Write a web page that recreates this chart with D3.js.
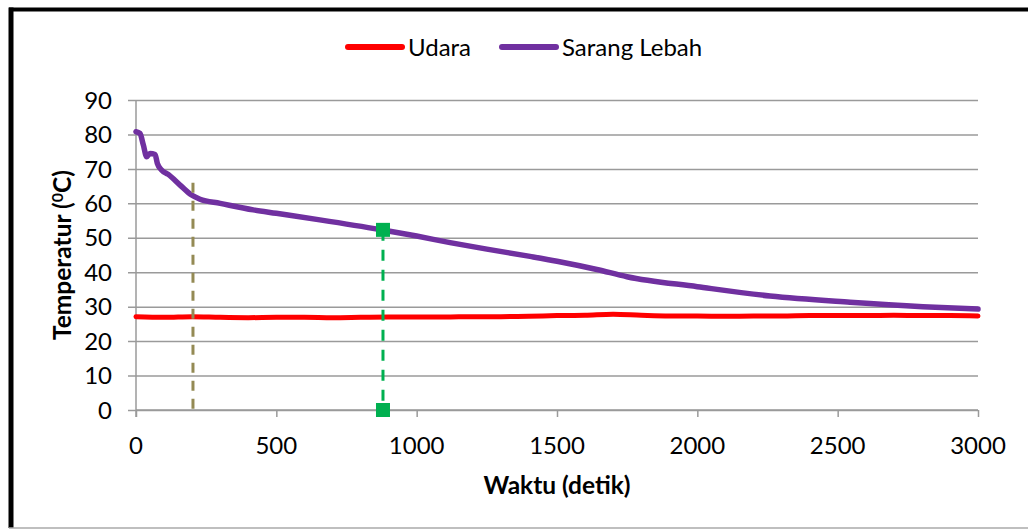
<!DOCTYPE html>
<html>
<head>
<meta charset="utf-8">
<script src="https://cdn.jsdelivr.net/npm/d3@7"></script>
<style>
  body { margin: 0; background: #fff; }
  svg { display: block; font-family: Lato, "Open Sans", sans-serif; }
</style>
</head>
<body>
<div id="chart"></div>
<script>
// Udara (air) temperature
const udaraTime = [0, 100, 200, 300, 400, 500, 600, 700, 800, 900, 1000, 1100, 1200, 1300, 1400, 1500,
    1600, 1700, 1800, 1900, 2000, 2100, 2200, 2300, 2400, 2500, 2600, 2700, 2800, 2900, 3000];
const udaraTemp = [27.1, 26.9, 27.1, 26.9, 26.8, 26.9, 26.9, 26.8, 26.9, 27.0, 27.0, 27.0, 27.1, 27.1, 27.2, 27.4,
    27.5, 27.8, 27.5, 27.3, 27.3, 27.2, 27.3, 27.3, 27.4, 27.4, 27.4, 27.5, 27.4, 27.4, 27.3];

// Sarang Lebah (honeycomb) temperature
const sarangTime = [0, 14, 26, 38, 50, 68, 76, 91, 115, 157, 198, 228, 300, 418, 500, 655, 869, 1000,
    1119, 1250, 1404, 1500, 1642, 1749, 2000, 2259, 2544, 2804, 3000];
const sarangTemp = [80.8, 80.3, 77, 73.5, 74.5, 74.2, 71.6, 69.7, 68.4, 65.3, 62.4, 61.2, 60.0, 58.1, 57.1, 55.2, 52.4, 50.5,
    48.6, 46.7, 44.6, 43.2, 40.8, 38.7, 35.8, 33.1, 31.3, 30.0, 29.3];

// reference markers
const oliveTime = 203;
const oliveTop = 66;
const greenTime = 880;
const greenTemps = [52.3, 0];

const xTicks = [0, 500, 1000, 1500, 2000, 2500, 3000];
const yTicks = [0, 10, 20, 30, 40, 50, 60, 70, 80, 90];
const seriesNames = ["Udara", "Sarang Lebah"];
const seriesColors = ["#FF0000", "#7030A0"];

const W = 1028, H = 531;
const svg = d3.select("#chart").append("svg")
    .attr("width", W)
    .attr("height", H);

svg.append("rect").attr("width", W).attr("height", H).attr("fill", "#fff");

// frame (cropped chart border)
svg.append("line").attr("x1", 9).attr("x2", W).attr("y1", 9.5).attr("y2", 9.5)
    .attr("stroke", "#000").attr("stroke-width", 4);
svg.append("line").attr("x1", 11).attr("x2", 11).attr("y1", 7.5).attr("y2", 528)
    .attr("stroke", "#000").attr("stroke-width", 5);
svg.append("line").attr("x1", 9).attr("x2", W).attr("y1", 528).attr("y2", 528)
    .attr("stroke", "#aaa").attr("stroke-width", 1.5);

const x = d3.scaleLinear().domain([0, 3000]).range([136, 978]);
const y = d3.scaleLinear().domain([0, 90]).range([410, 100]);

// gridlines + y ticks
svg.append("g")
    .attr("transform", `translate(${x(0)},0)`)
    .call(d3.axisLeft(y).tickValues(yTicks).tickSize(-(x(3000) - x(0))).tickFormat(""))
    .call(g => g.select(".domain").remove())
    .call(g => g.selectAll(".tick line")
        .attr("x1", -8)
        .attr("stroke", "#9a9a9a").attr("stroke-width", 1.5));

// y labels
svg.append("g").selectAll("text")
    .data(yTicks)
    .join("text")
    .attr("x", 112)
    .attr("y", d => y(d))
    .attr("dy", "0.36em")
    .attr("text-anchor", "end")
    .attr("font-size", 24)
    .attr("fill", "#000")
    .text(d => d);

// x axis
svg.append("g")
    .attr("transform", `translate(0,${y(0)})`)
    .call(d3.axisBottom(x).tickValues(xTicks).tickSize(7).tickFormat(""))
    .call(g => g.select(".domain").attr("stroke", "#9a9a9a").attr("stroke-width", 1.5)
        .attr("d", `M${x(0)},0H${x(3000)}`))
    .call(g => g.selectAll(".tick line").attr("stroke", "#9a9a9a").attr("stroke-width", 1.5));

// y axis line
svg.append("line")
    .attr("x1", x(0)).attr("x2", x(0))
    .attr("y1", y(90)).attr("y2", y(0) + 7)
    .attr("stroke", "#9a9a9a").attr("stroke-width", 1.5);

svg.append("g").selectAll("text")
    .data(xTicks)
    .join("text")
    .attr("x", d => x(d))
    .attr("y", 445)
    .attr("dy", "0.36em")
    .attr("text-anchor", "middle")
    .attr("font-size", 24)
    .attr("fill", "#000")
    .text(d => d);

// axis titles
svg.append("text")
    .attr("x", (x(0) + x(3000)) / 2)
    .attr("y", 485)
    .attr("dy", "0.36em")
    .attr("text-anchor", "middle")
    .attr("font-size", 24.5)
    .attr("font-weight", "bold")
    .text("Waktu (detik)");

const yTitle = svg.append("text")
    .attr("transform", `translate(62,${(y(0) + y(90)) / 2}) rotate(-90)`)
    .attr("dy", "0.36em")
    .attr("text-anchor", "middle")
    .attr("font-size", 24.5)
    .attr("font-weight", "bold");
yTitle.append("tspan").text("Temperatur (");
yTitle.append("tspan").attr("font-size", 16).attr("dy", -8).text("0");
yTitle.append("tspan").attr("dy", 8).text("C)");

// lines
const line = d3.line()
    .x(d => x(d[0]))
    .y(d => y(d[1]))
    .curve(d3.curveMonotoneX);

const udara = udaraTime.map((t, i) => [t, udaraTemp[i]]);
const sarang = sarangTime.map((t, i) => [t, sarangTemp[i]]);

svg.append("path")
    .datum(udara)
    .attr("d", line)
    .attr("fill", "none")
    .attr("stroke", seriesColors[0])
    .attr("stroke-width", 5)
    .attr("stroke-linecap", "round")
    .attr("stroke-linejoin", "round");

svg.append("path")
    .datum(sarang)
    .attr("d", line)
    .attr("fill", "none")
    .attr("stroke", seriesColors[1])
    .attr("stroke-width", 5.5)
    .attr("stroke-linecap", "round")
    .attr("stroke-linejoin", "round");

// dashed reference lines
svg.append("line")
    .attr("x1", x(oliveTime)).attr("x2", x(oliveTime))
    .attr("y1", y(oliveTop)).attr("y2", y(0))
    .attr("stroke", "#948A54")
    .attr("stroke-width", 3)
    .attr("stroke-dasharray", "10,8");

svg.append("line")
    .attr("x1", x(greenTime)).attr("x2", x(greenTime))
    .attr("y1", y(greenTemps[0])).attr("y2", y(greenTemps[1]))
    .attr("stroke", "#00B050")
    .attr("stroke-width", 3)
    .attr("stroke-dasharray", "11,9");

svg.append("g").selectAll("rect")
    .data(greenTemps)
    .join("rect")
    .attr("x", x(greenTime) - 7)
    .attr("y", d => y(d) - 7)
    .attr("width", 14)
    .attr("height", 14)
    .attr("fill", "#00B050");

// legend
const legendX = [348, 502];
const legend = svg.append("g").selectAll("g")
    .data(seriesNames)
    .join("g")
    .attr("transform", (d, i) => `translate(${legendX[i]},47)`);

legend.append("line")
    .attr("x1", 0).attr("x2", 54)
    .attr("stroke", (d, i) => seriesColors[i])
    .attr("stroke-width", 6)
    .attr("stroke-linecap", "round");

legend.append("text")
    .attr("x", 60)
    .attr("dy", "0.36em")
    .attr("font-size", 24)
    .text(d => d);
</script>
</body>
</html>
